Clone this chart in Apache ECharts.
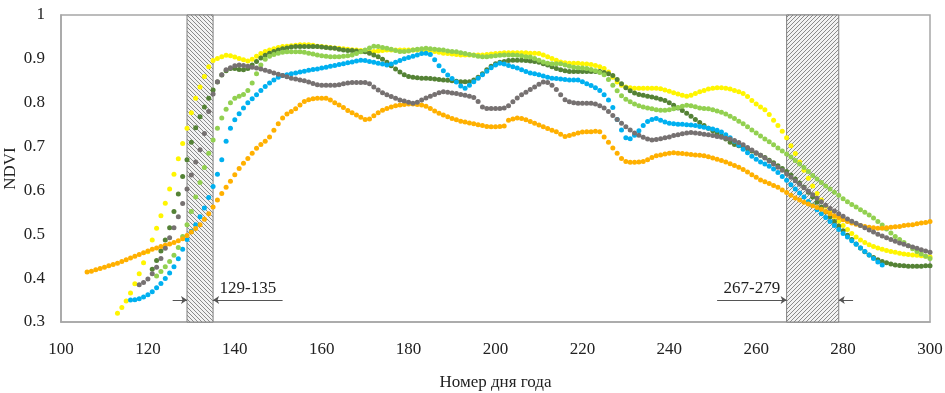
<!DOCTYPE html>
<html>
<head>
<meta charset="utf-8">
<script src="https://cdn.jsdelivr.net/npm/echarts@6/dist/echarts.min.js"></script>
<style>
  html, body { margin: 0; padding: 0; background: #fff; }
  #chart { width: 945px; height: 393px; }
</style>
</head>
<body>
<div id="chart"></div>
<script>
// Daily NDVI values, one per day of year starting at the given day
const orangeStart = 106;
const orangeNdvi = [
  .414,.416,.419,.422,.425,.428,.431,.434,.438,.442,.446,.450,.454,.458,.462,.466,.469,.472,.475,.478,
  .481,.485,.490,.497,.505,.513,.522,.534,.547,.562,.578,.593,.607,.621,.636,.650,.662,.673,.685,.696,
  .705,.712,.722,.737,.752,.765,.774,.780,.786,.795,.803,.807,.809,.810,.810,.810,.806,.800,.795,.789,
  .782,.777,.772,.767,.762,.763,.770,.777,.783,.787,.790,.793,.795,.796,.797,.797,.796,.795,.792,.787,
  .781,.776,.772,.768,.764,.761,.758,.756,.754,.752,.750,.748,.746,.745,.745,.746,.747,.760,.763,.765,
  .764,.761,.757,.753,.749,.745,.741,.737,.734,.728,.723,.725,.728,.731,.733,.734,.734,.735,.734,.722,
  .710,.697,.685,.673,.666,.664,.664,.665,.666,.670,.675,.679,.681,.683,.685,.686,.685,.684,.683,.682,
  .681,.680,.679,.677,.674,.671,.668,.665,.661,.657,.653,.648,.642,.636,.630,.624,.620,.616,.611,.607,
  .601,.595,.589,.583,.578,.573,.569,.565,.561,.557,.552,.547,.542,.538,.533,.529,.526,.523,.520,.518,
  .516,.515,.514,.514,.515,.516,.517,.518,.520,.521,.522,.524,.526,.527,.529
];

const yellowStart = 113;
const yellowNdvi = [
  .320,.333,.348,.366,.387,.410,.435,.460,.487,.514,.542,.571,.603,.637,.672,.707,.742,.777,.810,.836,
  .860,.882,.896,.901,.905,.908,.907,.904,.901,.898,.895,.899,.906,.912,.917,.920,.923,.926,.928,.929,
  .930,.931,.932,.932,.932,.931,.929,.928,.927,.926,.925,.924,.923,.922,.921,.920,.919,.918,.917,.917,
  .918,.919,.920,.920,.920,.920,.920,.920,.920,.920,.920,.920,.919,.917,.915,.913,.912,.911,.910,.909,
  .909,.909,.909,.909,.909,.910,.911,.912,.913,.914,.914,.914,.914,.914,.914,.913,.913,.912,.909,.905,
  .901,.897,.893,.891,.890,.890,.890,.889,.888,.887,.885,.882,.878,.870,.858,.847,.840,.836,.834,.833,
  .833,.833,.833,.833,.833,.832,.829,.826,.823,.820,.817,.815,.817,.821,.825,.828,.831,.833,.834,.834,
  .833,.831,.828,.825,.821,.814,.805,.797,.790,.784,.773,.760,.748,.735,.720,.702,.684,.665,.646,.628,
  .610,.593,.578,.564,.551,.540,.530,.520,.511,.502,.494,.487,.481,.476,.472,.469,.466,.463,.461,.459,
  .457,.455,.454,.453,.452,.451,.450,.449
];

const darkGreenStart = 121;
const darkGreenNdvi = [
  .420,.440,.462,.487,.515,.552,.592,.632,.670,.710,.743,.768,.790,.810,.829,.847,.863,.873,.878,.878,
  .876,.875,.878,.886,.894,.902,.908,.913,.917,.920,.923,.925,.927,.928,.928,.928,.928,.928,.928,.927,
  .926,.925,.924,.922,.920,.919,.919,.918,.917,.916,.913,.909,.905,.899,.892,.884,.877,.870,.864,.860,
  .858,.857,.856,.856,.855,.854,.853,.852,.851,.850,.849,.848,.848,.848,.852,.858,.866,.875,.883,.889,
  .892,.894,.896,.897,.897,.897,.896,.895,.894,.892,.889,.886,.882,.878,.875,.873,.871,.871,.871,.871,
  .871,.871,.871,.871,.869,.866,.862,.853,.843,.834,.827,.822,.819,.817,.815,.813,.811,.808,.805,.800,
  .794,.788,.782,.776,.769,.762,.755,.748,.742,.736,.730,.724,.717,.710,.705,.702,.699,.695,.690,.685,
  .680,.675,.669,.663,.656,.650,.643,.635,.626,.617,.607,.596,.585,.573,.562,.551,.540,.529,.519,.508,
  .498,.488,.478,.469,.460,.453,.447,.442,.438,.435,.432,.430,.429,.428,.427,.427,.427,.427,.428,.428
];

const grayStart = 118;
const grayNdvi = [
  .385,.390,.398,.410,.425,.445,.468,.492,.515,.540,.570,.603,.635,.665,.693,.730,.780,.820,.848,.864,
  .875,.880,.884,.886,.885,.883,.881,.879,.877,.874,.871,.868,.865,.862,.859,.856,.854,.852,.850,.847,
  .844,.841,.840,.840,.840,.840,.841,.843,.845,.846,.846,.846,.846,.843,.836,.829,.823,.818,.814,.810,
  .806,.804,.801,.799,.801,.806,.811,.815,.819,.823,.825,.824,.822,.821,.819,.817,.815,.812,.803,.790,
  .787,.787,.787,.787,.788,.793,.802,.811,.818,.824,.830,.836,.842,.847,.846,.840,.830,.818,.807,.802,
  .800,.799,.799,.799,.799,.797,.793,.788,.780,.771,.762,.753,.745,.738,.731,.726,.721,.717,.715,.716,
  .718,.720,.722,.725,.727,.729,.731,.732,.731,.730,.728,.727,.725,.723,.721,.719,.717,.714,.709,.704,
  .698,.692,.686,.680,.674,.667,.660,.653,.646,.638,.630,.622,.614,.606,.598,.590,.582,.574,.566,.559,
  .553,.547,.541,.535,.530,.525,.520,.515,.510,.505,.500,.496,.492,.488,.484,.480,.477,.474,.471,.468,
  .465,.462,.459
];

const lightGreenStart = 122;
const lightGreenNdvi = [
  .405,.415,.426,.438,.452,.470,.495,.522,.552,.585,.618,.652,.685,.715,.742,.765,.785,.800,.810,.815,
  .819,.828,.845,.866,.886,.899,.906,.910,.913,.915,.916,.916,.916,.916,.915,.913,.911,.909,.907,.906,
  .905,.905,.905,.906,.907,.909,.912,.916,.920,.925,.929,.928,.926,.924,.922,.919,.917,.917,.918,.920,
  .922,.923,.924,.923,.922,.921,.920,.918,.917,.916,.914,.912,.910,.908,.906,.905,.905,.906,.907,.908,
  .909,.909,.909,.908,.907,.905,.904,.901,.897,.893,.890,.889,.889,.889,.886,.883,.881,.880,.879,.878,
  .876,.873,.869,.864,.853,.840,.827,.816,.808,.802,.797,.793,.790,.788,.786,.784,.783,.783,.784,.786,
  .789,.792,.794,.793,.791,.788,.787,.786,.784,.781,.778,.774,.769,.764,.758,.752,.745,.738,.731,.724,
  .717,.711,.704,.697,.690,.683,.676,.668,.660,.652,.643,.634,.626,.618,.610,.603,.596,.589,.581,.574,
  .568,.562,.556,.550,.544,.537,.529,.521,.512,.503,.495,.488,.481,.474,.467,.461,.455,.450,.445
];

const blueStart = 116;
const blueNdvi = [
  .350,.351,.353,.357,.362,.369,.378,.388,.399,.412,.426,.444,.466,.488,.507,.522,.540,.560,.584,.609,
  .637,.670,.712,.742,.761,.775,.788,.800,.809,.818,.828,.837,.845,.852,.858,.862,.864,.866,.868,.870,
  .872,.874,.876,.877,.879,.881,.883,.885,.887,.889,.891,.893,.895,.897,.896,.894,.892,.890,.888,.886,
  .888,.892,.896,.900,.903,.906,.909,.912,.913,.910,.898,.884,.873,.863,.855,.847,.838,.833,.840,.848,
  .856,.864,.872,.880,.886,.890,.888,.885,.882,.879,.875,.871,.868,.866,.864,.861,.858,.856,.855,.854,
  .853,.852,.852,.852,.848,.843,.839,.834,.828,.818,.806,.789,.762,.738,.720,.718,.726,.736,.748,.757,
  .762,.764,.760,.756,.753,.752,.751,.751,.750,.749,.748,.746,.744,.742,.740,.737,.733,.727,.720,.712,
  .703,.694,.686,.678,.671,.665,.660,.655,.649,.641,.632,.623,.613,.603,.594,.585,.575,.566,.556,.547,
  .538,.529,.520,.511,.502,.494,.485,.477,.469,.461,.453,.445,.437,.430
];

// Observation windows marked on the day axis
const windowA = [129, 135];
const windowB = [267, 279];
const windowLabels = ['129-135', '267-279'];

const xTicks = { min: 100, max: 300, step: 20 };
const yTicks = { min: 0.3, max: 1, step: 0.1 };

function toPoints(start, values) {
  return values.map((v, i) => [start + i, v]);
}

function hatch(direction) {
  const s = 4;
  const c = document.createElement('canvas');
  c.width = s; c.height = s;
  const g = c.getContext('2d');
  g.fillStyle = '#f2f2f2';
  g.fillRect(0, 0, s, s);
  g.fillStyle = '#8a8a8a';
  for (let i = 0; i < s; i++) {
    const x = direction === 'down' ? i : s - 1 - i;
    g.fillRect(x, i, 1, 1);
  }
  return { image: c, repeat: 'repeat' };
}

const serif = '"Liberation Serif", "Times New Roman", serif';
const arrowY = 0.35;

function dot(name, color, start, values, z) {
  return {
    name, type: 'scatter', symbol: 'circle', symbolSize: 5,
    itemStyle: { color, opacity: 1 }, z,
    data: toPoints(start, values), silent: true
  };
}

const chart = echarts.init(document.getElementById('chart'), null, { renderer: 'canvas' });

const lineStyle = { color: '#555', width: 1, type: 'solid' };

const series = [
  dot('yellow', '#FFF500', yellowStart, yellowNdvi, 2),
  dot('darkgreen', '#548235', darkGreenStart, darkGreenNdvi, 3),
  dot('blue', '#00B0F0', blueStart, blueNdvi, 4),
  dot('lightgreen', '#92D050', lightGreenStart, lightGreenNdvi, 5),
  dot('orange', '#FFB000', orangeStart, orangeNdvi, 6),
  dot('gray', '#767171', grayStart, grayNdvi, 7)
];

// Hatched windows and their dimension arrows
series.push({
  type: 'scatter', data: [], z: 1, silent: true,
  markArea: {
    silent: true,
    data: [
      [{ xAxis: windowA[0], itemStyle: { color: hatch('down'), borderColor: '#7f7f7f', borderWidth: 1 } }, { xAxis: windowA[1] }],
      [{ xAxis: windowB[0], itemStyle: { color: hatch('up'), borderColor: '#7f7f7f', borderWidth: 1 } }, { xAxis: windowB[1] }]
    ]
  },
  markLine: {
    silent: true,
    symbol: ['none', 'arrow'],
    symbolSize: [6, 6],
    lineStyle,
    label: { show: false },
    data: [
      [{ coord: [windowA[0] - 3.3, arrowY] }, { coord: [windowA[0], arrowY] }],
      [{ coord: [windowA[1] + 16, arrowY] }, { coord: [windowA[1], arrowY],
        label: { show: true, formatter: windowLabels[0], position: 'middle', distance: 3,
                 color: '#222', fontFamily: serif, fontSize: 17 } }],
      [{ coord: [windowB[0] - 16, arrowY] }, { coord: [windowB[0], arrowY],
        label: { show: true, formatter: windowLabels[1], position: 'middle', distance: 3,
                 color: '#222', fontFamily: serif, fontSize: 17 } }],
      [{ coord: [windowB[1] + 3.3, arrowY] }, { coord: [windowB[1], arrowY] }]
    ]
  }
});

chart.setOption({
  animation: false,
  backgroundColor: '#fff',
  grid: { left: 61, right: 15, top: 15, bottom: 71, show: true, borderColor: '#a6a6a6', borderWidth: 1.5,
          containLabel: false, outerBoundsMode: 'none' },
  xAxis: {
    type: 'value', min: xTicks.min, max: xTicks.max, interval: xTicks.step,
    name: 'Номер дня года', nameLocation: 'middle', nameGap: 52, nameMoveOverlap: false,
    nameTextStyle: { fontFamily: serif, fontSize: 17, color: '#222' },
    axisLine: { show: true, lineStyle: { color: '#a6a6a6', width: 1.5 } },
    axisTick: { show: false }, splitLine: { show: false },
    axisLabel: { fontFamily: serif, fontSize: 17, color: '#222', margin: 19 }
  },
  yAxis: {
    type: 'value', min: yTicks.min, max: yTicks.max, interval: yTicks.step,
    name: 'NDVI', nameLocation: 'middle', nameGap: 42, nameRotate: 90, nameMoveOverlap: false,
    nameTextStyle: { fontFamily: serif, fontSize: 17, color: '#222' },
    axisLine: { show: true, lineStyle: { color: '#a6a6a6', width: 1.5 } },
    axisTick: { show: false }, splitLine: { show: false },
    axisLabel: { fontFamily: serif, fontSize: 17, color: '#222', margin: 16,
                 formatter: v => String(+v.toFixed(1)) }
  },
  series
});
</script>
</body>
</html>
